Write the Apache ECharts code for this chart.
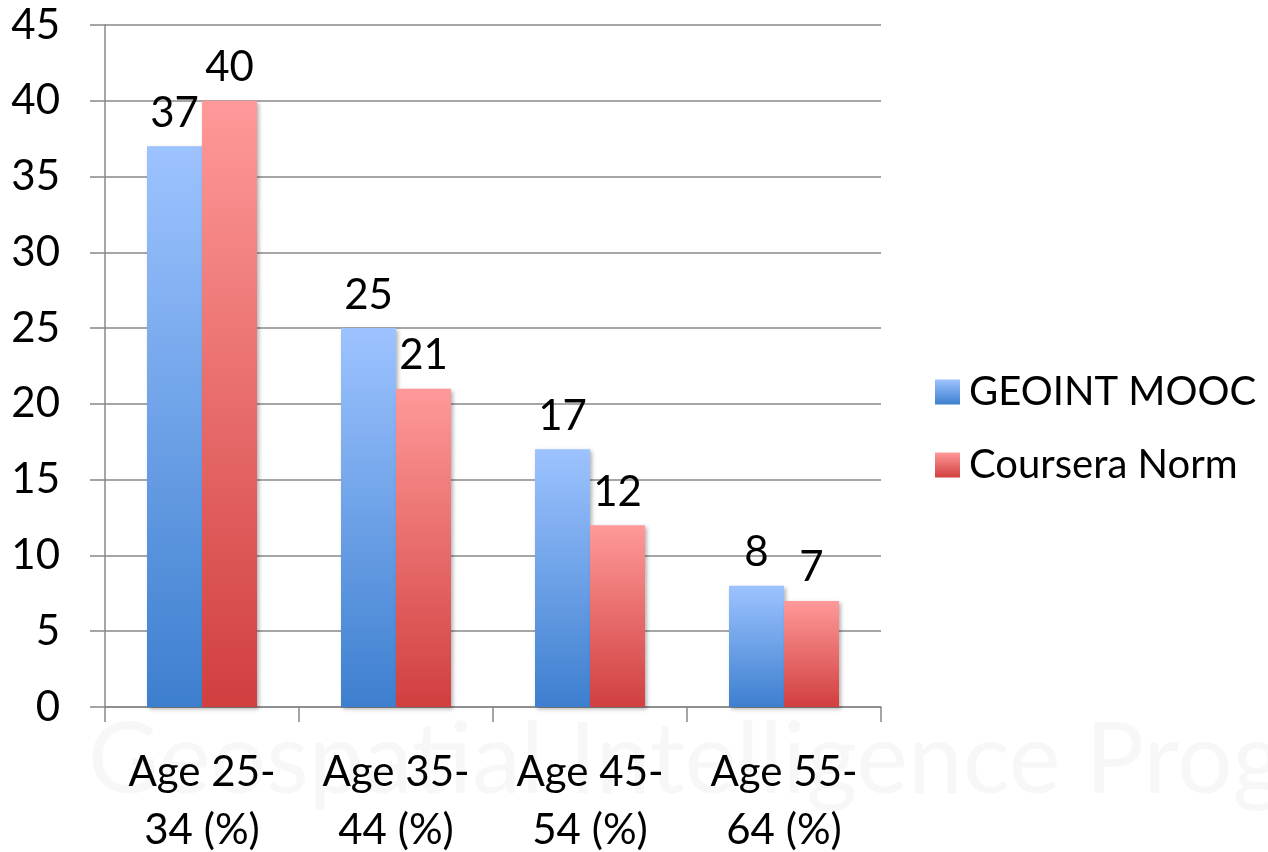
<!DOCTYPE html>
<html>
<head>
<meta charset="utf-8">
<script src="https://cdn.jsdelivr.net/npm/echarts@6/dist/echarts.min.js"></script>
<style>
html, body { margin: 0; padding: 0; background: #fff; }
#main { width: 1268px; height: 852px; }
</style>
</head>
<body>
<div id="main"></div>
<script>
// 数据
var categories = ["Age 25-\n34 (%)", "Age 35-\n44 (%)", "Age 45-\n54 (%)", "Age 55-\n64 (%)"];
var geointValues = [37, 25, 17, 8];
var courseraValues = [40, 21, 12, 7];
var seriesNames = ["GEOINT MOOC", "Coursera Norm"];

var FONT = "Lato";

function grad(top, bottom) {
    return new echarts.graphic.LinearGradient(0, 0, 0, 1, [
        { offset: 0, color: top },
        { offset: 1, color: bottom }
    ]);
}

var myChart = echarts.init(document.getElementById('main'));

var option = {
    backgroundColor: '#fff',
    animation: false,
    textStyle: { fontFamily: FONT },
    // 背景水印
    graphic: [{
        type: 'text',
        left: 88,
        top: 712,
        z: -10,
        silent: true,
        style: {
            text: 'Geospatial Intelligence Prog',
            fontFamily: FONT,
            fontSize: 98,
            fill: '#f7f7f7'
        }
    }],
    grid: {
        left: 105,
        right: 387,
        top: 25,
        bottom: 145,
        containLabel: false,
        outerBoundsMode: 'none'
    },
    legend: {
        orient: 'vertical',
        left: 930,
        top: 367,
        icon: 'rect',
        itemWidth: 25,
        itemHeight: 25,
        itemGap: 33,
        data: seriesNames,
        textStyle: { fontSize: 40, color: '#000', fontFamily: FONT, padding: [0, 0, 0, 4] }
    },
    xAxis: {
        type: 'category',
        data: categories,
        axisLine: { lineStyle: { color: '#888', width: 1.5 } },
        axisTick: { show: true, length: 15, lineStyle: { color: '#888', width: 1.5 } },
        axisLabel: {
            fontSize: 42,
            color: '#000',
            fontFamily: FONT,
            margin: 36,
            lineHeight: 58
        }
    },
    yAxis: {
        type: 'value',
        min: 0,
        max: 45,
        interval: 5,
        axisLine: { show: true, lineStyle: { color: '#888', width: 1.5 } },
        axisTick: { show: true, length: 15, lineStyle: { color: '#888', width: 1.5 } },
        splitLine: { lineStyle: { color: '#888', width: 1.5 } },
        axisLabel: {
            fontSize: 42,
            color: '#000',
            fontFamily: FONT,
            margin: 45
        }
    },
    series: [{
        name: seriesNames[0],
        type: 'bar',
        data: geointValues,
        barWidth: 55,
        barGap: '0%',
        itemStyle: {
            color: grad('#9dc3ff', '#3d7fcf'),
            shadowBlur: 4,
            shadowColor: 'rgba(0,0,0,0.3)',
            shadowOffsetX: 2,
            shadowOffsetY: 2
        },
        label: {
            show: true,
            position: 'top',
            distance: 12,
            fontSize: 42,
            color: '#000',
            fontFamily: FONT
        }
    }, {
        name: seriesNames[1],
        type: 'bar',
        data: courseraValues,
        barWidth: 55,
        barGap: '0%',
        itemStyle: {
            color: grad('#ff9999', '#d13f3f'),
            shadowBlur: 4,
            shadowColor: 'rgba(0,0,0,0.3)',
            shadowOffsetX: 2,
            shadowOffsetY: 2
        },
        label: {
            show: true,
            position: 'top',
            distance: 12,
            fontSize: 42,
            color: '#000',
            fontFamily: FONT
        }
    }]
};

myChart.setOption(option);
</script>
</body>
</html>
